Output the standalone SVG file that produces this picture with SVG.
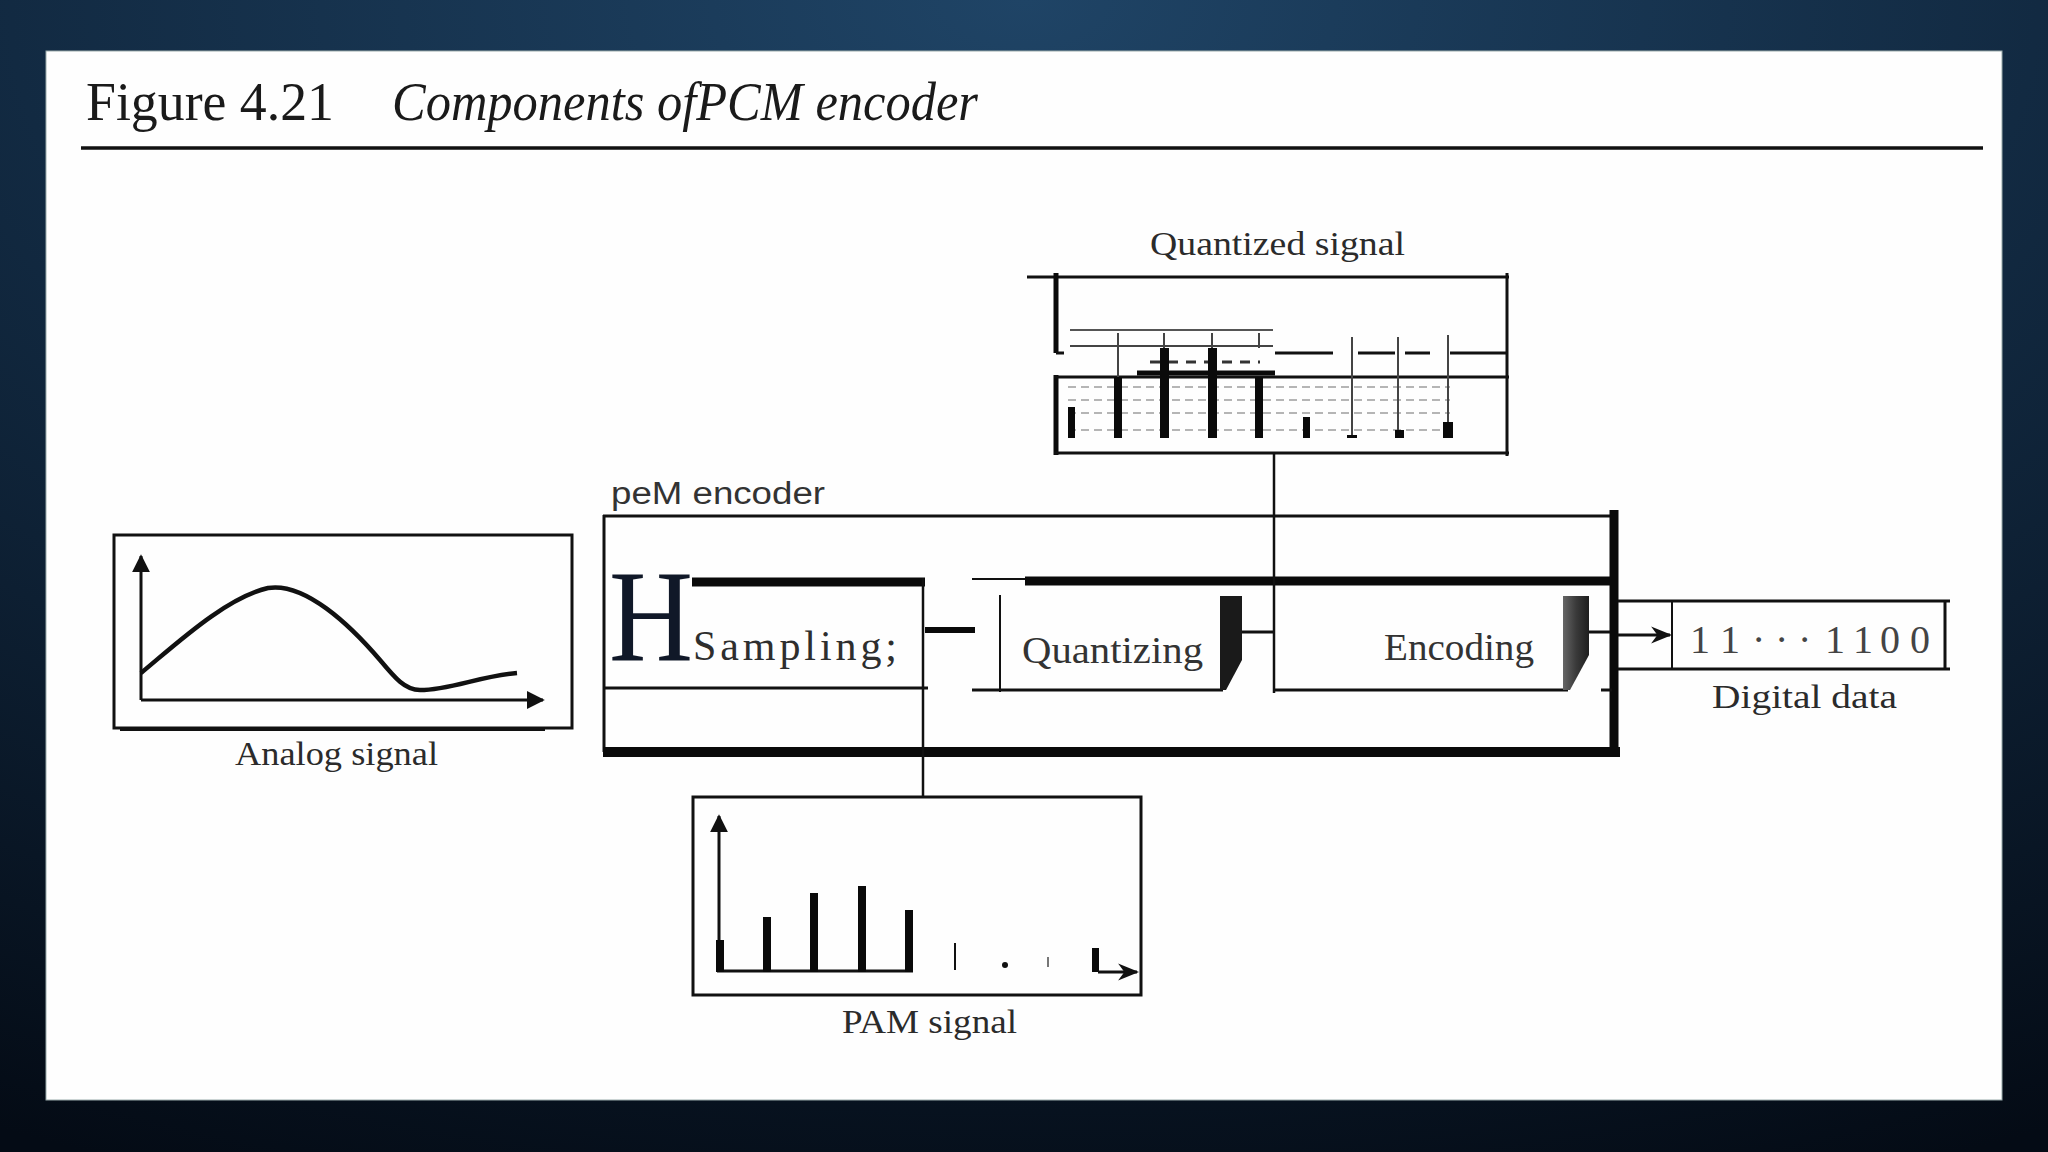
<svg xmlns="http://www.w3.org/2000/svg" width="2048" height="1152" viewBox="0 0 2048 1152">
<defs>
<radialGradient id="bg" cx="0.5" cy="0" r="1.1" fx="0.5" fy="0">
<stop offset="0" stop-color="#1f4466"/>
<stop offset="0.45" stop-color="#122a42"/>
<stop offset="1" stop-color="#040b15"/>
</radialGradient>
<linearGradient id="encbar" x1="0" y1="0" x2="1" y2="0">
<stop offset="0" stop-color="#666"/>
<stop offset="0.5" stop-color="#3a3a3a"/>
<stop offset="1" stop-color="#1e1e1e"/>
</linearGradient>
<marker id="arr" viewBox="0 0 10 10" refX="9" refY="5" markerWidth="6" markerHeight="6" markerUnits="strokeWidth" orient="auto">
<path d="M0,0 L10,5 L0,10 z" fill="#111"/>
</marker>
<marker id="arrs" viewBox="0 0 10 10" refX="9" refY="5" markerWidth="7" markerHeight="7" markerUnits="strokeWidth" orient="auto">
<path d="M0,1 L10,5 L0,9 L3,5 z" fill="#111"/>
</marker>
</defs>
<style>
.ln{stroke:#111;fill:none;stroke-width:3}
.thin{stroke:#111;fill:none;stroke-width:2}
.thk{stroke:#0a0a0a;fill:none;stroke-width:9}
.gr{stroke:#b5b5b5;fill:none;stroke-width:2;stroke-dasharray:8 5}
.bar{fill:#0a0a0a}
.lbl{font-family:"Liberation Serif","Times New Roman",serif;font-size:34px;fill:#2b2b2b}
.blk{font-family:"Liberation Serif","Times New Roman",serif;font-size:37px;fill:#333}
</style>
<rect x="0" y="0" width="2048" height="1152" fill="url(#bg)"/>
<rect x="46" y="51" width="1956" height="1049" fill="#fefefe" stroke="#9aa" stroke-width="1"/>

<g id="title">
<text x="86" y="120" font-family="Liberation Serif, serif" font-size="54" fill="#1a1a1a" textLength="248" lengthAdjust="spacingAndGlyphs">Figure 4.21</text>
<text x="392" y="120" font-family="Liberation Serif, serif" font-style="italic" font-size="54" fill="#1a1a1a" textLength="586" lengthAdjust="spacingAndGlyphs">Components ofPCM encoder</text>
<line x1="81" y1="148" x2="1983" y2="148" stroke="#111" stroke-width="3.5"/>
</g>

<g id="analog-signal">
<rect x="114" y="535" width="458" height="193" class="ln"/>
<line x1="120" y1="729" x2="545" y2="729" stroke="#111" stroke-width="4"/>
<line x1="141" y1="700" x2="141" y2="556" class="ln" marker-end="url(#arr)"/>
<line x1="141" y1="700" x2="543" y2="700" class="ln" marker-end="url(#arr)"/>
<path d="M141,673 C175,645 225,598 268,588 C305,582 350,625 380,660 C395,678 405,690 420,690 C450,690 480,676 517,673" fill="none" stroke="#111" stroke-width="4.5"/>
<text class="lbl" x="235" y="765" textLength="203" lengthAdjust="spacingAndGlyphs">Analog signal</text>
</g>

<g id="pcm-encoder">
<text x="611" y="504" font-family="Liberation Sans, Arial, sans-serif" font-size="31" fill="#333" textLength="214" lengthAdjust="spacingAndGlyphs">peM encoder</text>
<line x1="603" y1="516" x2="1617" y2="516" class="ln"/>
<line x1="604" y1="515" x2="604" y2="752" class="ln"/>
<line x1="1614" y1="510" x2="1614" y2="757" stroke="#0a0a0a" stroke-width="9"/>
<line x1="603" y1="752" x2="1620" y2="752" stroke="#0a0a0a" stroke-width="10"/>
</g>

<g id="sampling">
<line x1="692" y1="582" x2="925" y2="582" class="thk"/>
<line x1="604" y1="688" x2="928" y2="688" class="ln"/>
<text x="609" y="660" font-family="Liberation Serif, serif" font-size="131" fill="#101828" textLength="84" lengthAdjust="spacingAndGlyphs">H</text>
<text x="693" y="660" font-family="Liberation Serif, serif" font-size="42" fill="#2e2e2e" textLength="204" lengthAdjust="spacing">Sampling;</text>
</g>

<g id="quantizing">
<line x1="972" y1="579" x2="1025" y2="579" class="thin"/>
<line x1="1025" y1="581" x2="1611" y2="581" class="thk"/>
<line x1="1000" y1="595" x2="1000" y2="692" class="thin"/>
<line x1="972" y1="690" x2="1223" y2="690" class="ln"/>
<polygon points="1220,596 1242,596 1242,660 1226,690 1220,690" fill="#1a1a1a"/>
<text class="blk" x="1022" y="663" textLength="181" lengthAdjust="spacingAndGlyphs">Quantizing</text>
</g>

<g id="encoding">
<line x1="1273" y1="690" x2="1568" y2="690" class="ln"/>
<line x1="1601" y1="690" x2="1612" y2="690" class="ln"/>
<polygon points="1563,596 1589,596 1589,655 1570,690 1563,690" fill="url(#encbar)"/>
<text class="blk" x="1384" y="660" textLength="150" lengthAdjust="spacingAndGlyphs">Encoding</text>
</g>

<g id="quantized-signal">
<text class="lbl" x="1150" y="255" textLength="255" lengthAdjust="spacingAndGlyphs">Quantized signal</text>
<line x1="1027" y1="277" x2="1509" y2="277" class="ln"/>
<line x1="1056" y1="273" x2="1056" y2="353" stroke="#0a0a0a" stroke-width="5"/>
<line x1="1056" y1="353" x2="1064" y2="353" class="ln"/>
<line x1="1056" y1="375" x2="1056" y2="455" stroke="#0a0a0a" stroke-width="5"/>
<line x1="1507" y1="273" x2="1507" y2="456" class="ln"/>
<line x1="1054" y1="453" x2="1509" y2="453" class="ln"/>
<line x1="1054" y1="377" x2="1509" y2="377" class="ln"/>
<path d="M1275,353 H1333 M1358,353 H1395 M1405,353 H1430 M1450,353 H1507" class="ln"/>
<line x1="1137" y1="373" x2="1275" y2="373" stroke="#0a0a0a" stroke-width="5"/>
<line x1="1070" y1="330" x2="1273" y2="330" stroke="#555" stroke-width="2"/>
<line x1="1070" y1="346" x2="1273" y2="346" stroke="#444" stroke-width="2"/>
<line x1="1150" y1="362" x2="1260" y2="362" stroke="#333" stroke-width="3" stroke-dasharray="10 8"/>
<line x1="1068" y1="387" x2="1450" y2="387" class="gr"/>
<line x1="1068" y1="400" x2="1450" y2="400" class="gr"/>
<line x1="1068" y1="413" x2="1450" y2="413" class="gr"/>
<line x1="1068" y1="430" x2="1450" y2="430" class="gr"/>
<path d="M1118,333 V377 M1164,333 V348 M1212,333 V348 M1259,333 V348 M1352,337 V438 M1398,337 V430 M1448,335 V422" stroke="#444" stroke-width="2" fill="none"/>
<rect class="bar" x="1068" y="407" width="7" height="31"/>
<rect class="bar" x="1114" y="377" width="8" height="61"/>
<rect class="bar" x="1160" y="348" width="9" height="90"/>
<rect class="bar" x="1208" y="348" width="9" height="90"/>
<rect class="bar" x="1255" y="377" width="8" height="61"/>
<rect class="bar" x="1303" y="417" width="7" height="21"/>
<rect class="bar" x="1347" y="435" width="10" height="3"/>
<rect class="bar" x="1395" y="430" width="9" height="8"/>
<rect class="bar" x="1443" y="422" width="10" height="16"/>
</g>

<g id="pam-signal">
<rect x="693" y="797" width="448" height="198" class="ln"/>
<line x1="719" y1="971" x2="719" y2="816" class="ln" marker-end="url(#arr)"/>
<line x1="717" y1="971" x2="913" y2="971" class="ln"/>
<rect class="bar" x="716" y="940" width="8" height="32"/>
<rect class="bar" x="763" y="917" width="8" height="55"/>
<rect class="bar" x="810" y="893" width="8" height="79"/>
<rect class="bar" x="858" y="886" width="8" height="86"/>
<rect class="bar" x="905" y="910" width="8" height="62"/>
<line x1="955" y1="943" x2="955" y2="970" class="thin"/>
<circle cx="1005" cy="965" r="3" fill="#111"/>
<line x1="1048" y1="957" x2="1048" y2="967" stroke="#777" stroke-width="2"/>
<rect class="bar" x="1092" y="948" width="7" height="24"/>
<line x1="1098" y1="972" x2="1137" y2="972" class="ln" marker-end="url(#arrs)"/>
<text class="lbl" x="842" y="1033" textLength="175" lengthAdjust="spacingAndGlyphs">PAM signal</text>
</g>

<g id="digital-data">
<line x1="1618" y1="601" x2="1950" y2="601" class="ln"/>
<line x1="1618" y1="669" x2="1950" y2="669" class="ln"/>
<line x1="1672" y1="601" x2="1672" y2="669" class="thin"/>
<line x1="1945" y1="601" x2="1945" y2="669" class="ln"/>
<text x="1690 1720 1752 1775 1798 1825 1853 1880 1910" y="653" font-family="Liberation Serif, serif" font-size="40" fill="#444">11···1100</text>
<text class="lbl" x="1712" y="708" textLength="185" lengthAdjust="spacingAndGlyphs">Digital data</text>
</g>

<g id="connectors">
<line x1="923" y1="578" x2="923" y2="797" stroke="#111" stroke-width="2.5"/>
<line x1="925" y1="630" x2="975" y2="630" stroke="#0a0a0a" stroke-width="6"/>
<line x1="1242" y1="632" x2="1273" y2="632" class="ln"/>
<line x1="1274" y1="453" x2="1274" y2="693" stroke="#111" stroke-width="2.5"/>
<line x1="1589" y1="632" x2="1610" y2="632" class="ln"/>
<line x1="1618" y1="635" x2="1670" y2="635" class="ln" marker-end="url(#arrs)"/>
</g>
</svg>
